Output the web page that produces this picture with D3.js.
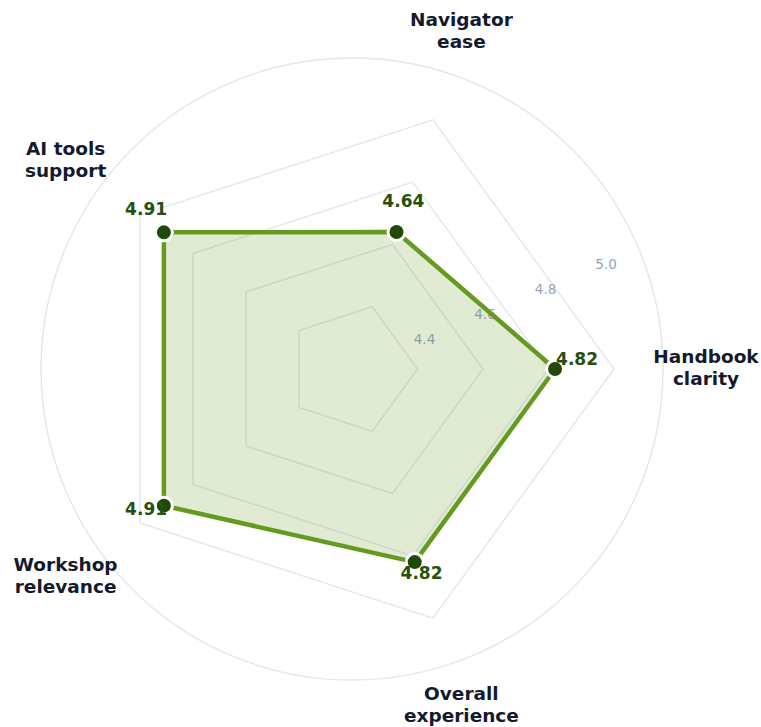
<!DOCTYPE html>
<html>
<head>
<meta charset="utf-8">
<script src="https://cdn.jsdelivr.net/npm/d3@7"></script>
<style>
  html, body { margin: 0; padding: 0; background: #ffffff; }
  svg { display: block; font-family: "DejaVu Sans", sans-serif; }
</style>
</head>
<body>
<svg id="chart" width="761" height="727"></svg>
<script>
// Survey dimensions and their average scores
const categories = [
  ["Handbook", "clarity"],
  ["Navigator", "ease"],
  ["AI tools", "support"],
  ["Workshop", "relevance"],
  ["Overall", "experience"]
];
const scores = [4.82, 4.64, 4.91, 4.91, 4.82];
const gridLevels = [4.4, 4.6, 4.8, 5.0];
const tickLabels = ["4.4", "4.6", "4.8", "5.0"];

const svg = d3.select("#chart");
const cx = 352, cy = 369;
const outerR = 262;
const frameR = 311;

const r = d3.scaleLinear().domain([4.2, 5.0]).range([0, outerR]);
const angle = d3.scaleLinear().domain([0, categories.length]).range([0, -2 * Math.PI]);

const g = svg.append("g").attr("transform", `translate(${cx},${cy})`);
const pt = (i, rad) => [rad * Math.cos(angle(i)), rad * Math.sin(angle(i))];

// Outer frame circle
g.append("circle")
  .attr("r", frameR)
  .attr("fill", "none")
  .attr("stroke", "#e5e7eb")
  .attr("stroke-width", 1.5);

// Pentagon grid rings
const ringLine = d3.line().curve(d3.curveLinearClosed);
g.selectAll("path.ring")
  .data(gridLevels)
  .join("path")
  .attr("class", "ring")
  .attr("d", v => ringLine(categories.map((_, i) => pt(i, r(v)))))
  .attr("fill", "none")
  .attr("stroke", "#e2e8f0")
  .attr("stroke-width", 1.5);

// Ring value labels
const tickAngle = -22.5 * Math.PI / 180;
g.selectAll("text.tick")
  .data(gridLevels)
  .join("text")
  .attr("class", "tick")
  .attr("x", v => (r(v) + 13) * Math.cos(tickAngle))
  .attr("y", v => (r(v) + 13) * Math.sin(tickAngle) + 1)
  .attr("text-anchor", "middle")
  .attr("dominant-baseline", "middle")
  .attr("font-size", 13.5)
  .attr("fill", "#94a3b8")
  .text((v, i) => tickLabels[i]);

// Score area
const pts = scores.map((s, i) => pt(i, r(s)));
g.append("path")
  .attr("d", ringLine(pts))
  .attr("fill", "#6a9a2a")
  .attr("fill-opacity", 0.2)
  .attr("stroke", "#649a1f")
  .attr("stroke-width", 4.5)
  .attr("stroke-linejoin", "round");

// Score points
g.selectAll("circle.pt")
  .data(scores)
  .join("circle")
  .attr("class", "pt")
  .attr("cx", (s, i) => pt(i, r(s))[0])
  .attr("cy", (s, i) => pt(i, r(s))[1])
  .attr("r", 8.5)
  .attr("fill", "#1f4a0b")
  .attr("stroke", "#ffffff")
  .attr("stroke-width", 3);

// Score labels
g.selectAll("text.val")
  .data(scores)
  .join("text")
  .attr("class", "val")
  .attr("x", (s, i) => pt(i, r(s) + 22)[0])
  .attr("y", (s, i) => pt(i, r(s) + 22)[1] - 9)
  .attr("text-anchor", "middle")
  .attr("dominant-baseline", "middle")
  .attr("font-size", 17)
  .attr("font-weight", "bold")
  .attr("fill", "#27500f")
  .text(s => s.toFixed(2));

// Axis labels
const labelR = 354;
const lab = g.selectAll("text.axis")
  .data(categories)
  .join("text")
  .attr("class", "axis")
  .attr("text-anchor", "middle")
  .attr("font-size", 18.5)
  .attr("font-weight", "bold")
  .attr("fill", "#141a2e");
lab.each(function(lines, i) {
  const [x, y] = pt(i, labelR);
  const t = d3.select(this);
  lines.forEach((ln, k) => {
    t.append("tspan")
      .attr("x", x)
      .attr("y", y + (k - 0.5) * 22)
      .attr("dominant-baseline", "middle")
      .text(ln);
  });
});
</script>
</body>
</html>
